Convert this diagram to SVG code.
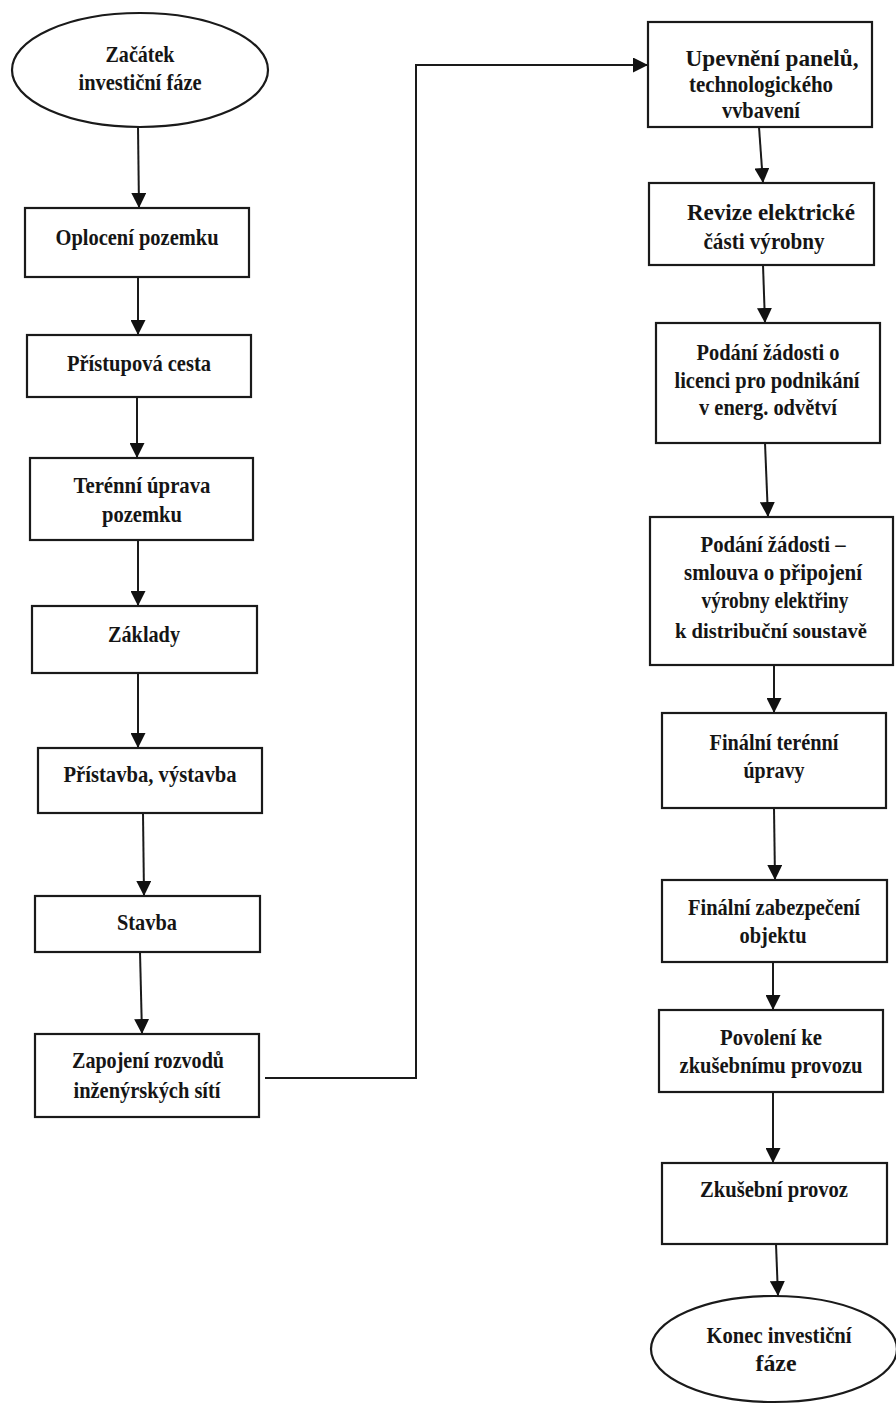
<svg xmlns="http://www.w3.org/2000/svg" width="896" height="1405" viewBox="0 0 896 1405">
<style>
.n{fill:#fff;stroke:#1a1a1a;stroke-width:2.2}
.t{font-family:"Liberation Serif","Times New Roman",serif;font-weight:bold;font-size:24px;fill:#151515;text-anchor:middle}
.c{fill:none;stroke:#1a1a1a;stroke-width:2}
</style>
<defs>
<marker id="ah" markerUnits="userSpaceOnUse" markerWidth="15" markerHeight="15" refX="15" refY="7.5" orient="auto">
<path d="M0,0 L15,7.5 L0,15 z" fill="#111"/>
</marker>
</defs>
<rect width="896" height="1405" fill="#fff"/>
<g id="connectors">
<path class="c" marker-end="url(#ah)" d="M138 127 L139 208"/>
<path class="c" marker-end="url(#ah)" d="M138 277 L138 335"/>
<path class="c" marker-end="url(#ah)" d="M137 397 L137 458"/>
<path class="c" marker-end="url(#ah)" d="M138 540 L138 606"/>
<path class="c" marker-end="url(#ah)" d="M138 673 L138 748"/>
<path class="c" marker-end="url(#ah)" d="M143 813 L144 896"/>
<path class="c" marker-end="url(#ah)" d="M140 952 L142 1034"/>
<path class="c" marker-end="url(#ah)" d="M265 1078 L416 1078 L416 65 L648 65"/>
<path class="c" marker-end="url(#ah)" d="M759 127 L763 183"/>
<path class="c" marker-end="url(#ah)" d="M763 265 L765 323"/>
<path class="c" marker-end="url(#ah)" d="M765 443 L768 517"/>
<path class="c" marker-end="url(#ah)" d="M774 665 L774 713"/>
<path class="c" marker-end="url(#ah)" d="M774 808 L775 880"/>
<path class="c" marker-end="url(#ah)" d="M773 962 L773 1010"/>
<path class="c" marker-end="url(#ah)" d="M773 1092 L773 1163"/>
<path class="c" marker-end="url(#ah)" d="M776 1244 L778 1296"/>
</g>
<g id="start">
<ellipse class="n" cx="140" cy="70" rx="128" ry="57"/>
<text class="t" x="140" y="62" textLength="69" lengthAdjust="spacingAndGlyphs">Začátek</text>
<text class="t" x="140" y="90" textLength="123" lengthAdjust="spacingAndGlyphs">investiční fáze</text>
</g>
<g id="oploceni">
<rect class="n" x="25" y="208" width="224" height="69"/>
<text class="t" x="137" y="245" textLength="163" lengthAdjust="spacingAndGlyphs">Oplocení pozemku</text>
</g>
<g id="pristupova">
<rect class="n" x="27" y="335" width="224" height="62"/>
<text class="t" x="139" y="371" textLength="144" lengthAdjust="spacingAndGlyphs">Přístupová cesta</text>
</g>
<g id="terenni">
<rect class="n" x="30" y="458" width="223" height="82"/>
<text class="t" x="142" y="493" textLength="137" lengthAdjust="spacingAndGlyphs">Terénní úprava</text>
<text class="t" x="142" y="522" textLength="80" lengthAdjust="spacingAndGlyphs">pozemku</text>
</g>
<g id="zaklady">
<rect class="n" x="32" y="606" width="225" height="67"/>
<text class="t" x="144" y="642" textLength="72" lengthAdjust="spacingAndGlyphs">Základy</text>
</g>
<g id="pristavba">
<rect class="n" x="38" y="748" width="224" height="65"/>
<text class="t" x="150" y="782" textLength="173" lengthAdjust="spacingAndGlyphs">Přístavba, výstavba</text>
</g>
<g id="stavba">
<rect class="n" x="35" y="896" width="225" height="56"/>
<text class="t" x="147" y="930" textLength="60" lengthAdjust="spacingAndGlyphs">Stavba</text>
</g>
<g id="zapojeni">
<rect class="n" x="35" y="1034" width="224" height="83"/>
<text class="t" x="148" y="1068" textLength="152" lengthAdjust="spacingAndGlyphs">Zapojení rozvodů</text>
<text class="t" x="147" y="1098" textLength="147" lengthAdjust="spacingAndGlyphs">inženýrských sítí</text>
</g>
<g id="upevneni">
<rect class="n" x="648" y="22" width="224" height="105"/>
<text class="t" x="772" y="66" textLength="173" lengthAdjust="spacingAndGlyphs">Upevnění panelů,</text>
<text class="t" x="761" y="92" textLength="144" lengthAdjust="spacingAndGlyphs">technologického</text>
<text class="t" x="761" y="118" textLength="78" lengthAdjust="spacingAndGlyphs">vvbavení</text>
</g>
<g id="revize">
<rect class="n" x="649" y="183" width="225" height="82"/>
<text class="t" x="771" y="220" textLength="168" lengthAdjust="spacingAndGlyphs">Revize elektrické</text>
<text class="t" x="764" y="249" textLength="121" lengthAdjust="spacingAndGlyphs">části výrobny</text>
</g>
<g id="licence">
<rect class="n" x="656" y="323" width="224" height="120"/>
<text class="t" x="768" y="360" textLength="143" lengthAdjust="spacingAndGlyphs">Podání žádosti o</text>
<text class="t" x="767" y="388" textLength="185" lengthAdjust="spacingAndGlyphs">licenci pro podnikání</text>
<text class="t" x="768" y="415" textLength="138" lengthAdjust="spacingAndGlyphs">v energ. odvětví</text>
</g>
<g id="smlouva">
<rect class="n" x="650" y="517" width="243" height="148"/>
<text class="t" x="773" y="552" textLength="145" lengthAdjust="spacingAndGlyphs">Podání žádosti –</text>
<text class="t" x="773" y="580" textLength="178" lengthAdjust="spacingAndGlyphs">smlouva o připojení</text>
<text class="t" x="775" y="608" textLength="147" lengthAdjust="spacingAndGlyphs">výrobny elektřiny</text>
<text class="t" x="771" y="638" style="font-size:22px" textLength="192" lengthAdjust="spacingAndGlyphs">k distribuční soustavě</text>
</g>
<g id="final_terenni">
<rect class="n" x="662" y="713" width="224" height="95"/>
<text class="t" x="774" y="750" textLength="129" lengthAdjust="spacingAndGlyphs">Finální terénní</text>
<text class="t" x="774" y="778" textLength="61" lengthAdjust="spacingAndGlyphs">úpravy</text>
</g>
<g id="final_zabezpeceni">
<rect class="n" x="662" y="880" width="225" height="82"/>
<text class="t" x="774" y="915" textLength="172" lengthAdjust="spacingAndGlyphs">Finální zabezpečení</text>
<text class="t" x="773" y="943" textLength="67" lengthAdjust="spacingAndGlyphs">objektu</text>
</g>
<g id="povoleni">
<rect class="n" x="659" y="1010" width="224" height="82"/>
<text class="t" x="771" y="1045" textLength="102" lengthAdjust="spacingAndGlyphs">Povolení ke</text>
<text class="t" x="771" y="1073" textLength="183" lengthAdjust="spacingAndGlyphs">zkušebnímu provozu</text>
</g>
<g id="zkusebni">
<rect class="n" x="662" y="1163" width="225" height="81"/>
<text class="t" x="774" y="1197" textLength="148" lengthAdjust="spacingAndGlyphs">Zkušební provoz</text>
</g>
<g id="end">
<ellipse class="n" cx="774" cy="1349" rx="123" ry="53"/>
<text class="t" x="779" y="1343" textLength="145" lengthAdjust="spacingAndGlyphs">Konec investiční</text>
<text class="t" x="776" y="1371" textLength="41" lengthAdjust="spacingAndGlyphs">fáze</text>
</g>
</svg>
